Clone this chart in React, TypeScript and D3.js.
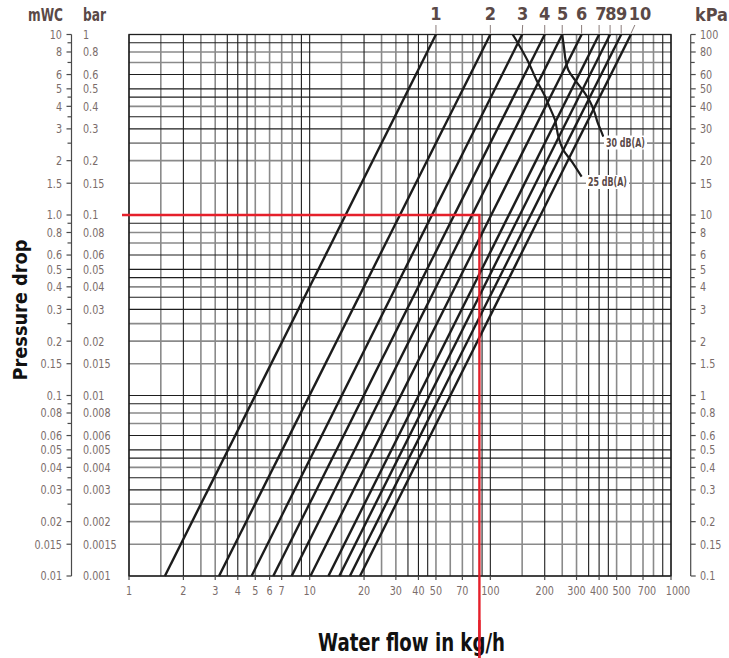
import React, { useRef, useEffect } from "react";
import * as d3 from "d3";

const W = 729;
const H = 658;

// grid multipliers per decade, and which of them are drawn dark (the rest grey)
const gridMults = [1, 1.5, 2, 2.5, 3, 3.5, 4, 4.5, 5, 6, 7, 8, 9];
const vGridDark = [true, false, true, false, false, true, true, true, false, false, false, false, true];
const hGridDark = [true, false, false, false, true, true, false, true, true, true, false, false, true];
const flowDecades = [1, 10, 100];
const pressDecades = [0.01, 0.1, 1];

// axis ticks (pressure in mWC)
const mwcTicks = [10, 8, 6, 5, 4, 3, 2, 1.5, 1, 0.8, 0.6, 0.5, 0.4, 0.3, 0.2, 0.15, 0.1, 0.08, 0.06, 0.05, 0.04, 0.03, 0.02, 0.015, 0.01];
const mwcLabels = ["10", "8", "6", "5", "4", "3", "2", "1.5", "1.0", "0.8", "0.6", "0.5", "0.4", "0.3", "0.2", "0.15", "0.1", "0.08", "0.06", "0.05", "0.04", "0.03", "0.02", "0.015", "0.01"];
const barLabels = ["1", "0.8", "0.6", "0.5", "0.4", "0.3", "0.2", "0.15", "0.1", "0.08", "0.06", "0.05", "0.04", "0.03", "0.02", "0.015", "0.01", "0.008", "0.006", "0.005", "0.004", "0.003", "0.002", "0.0015", "0.001"];
const kpaLabels = ["100", "80", "60", "50", "40", "30", "20", "15", "10", "8", "6", "5", "4", "3", "2", "1.5", "1", "0.8", "0.6", "0.5", "0.4", "0.3", "0.2", "0.15", "0.1"];
const minorTicks = [9, 7, 4.5, 3.5, 2.5, 0.9, 0.7, 0.45, 0.35, 0.25, 0.09, 0.07, 0.045, 0.035, 0.025];

const flowTicks = [1, 2, 3, 4, 5, 6, 7, 10, 20, 30, 40, 50, 70, 100, 200, 300, 400, 500, 700, 1000];

// valve settings 1..10: flow (kg/h) at 0.01 mWC and at 10 mWC
const settingLabels = ["1", "2", "3", "4", "5", "6", "7", "8", "9", "10"];
const flowAtLow = [1.58, 3.15, 4.77, 6.29, 7.95, 10.1, 12.7, 14.6, 16.7, 19.0];
const flowAtHigh = [50, 100, 150, 200, 250, 320, 400, 460, 530, 600];
const labelFlow = [50, 100, 151, 200, 251, 320, 409, 465, 533, 673];
const leaderFlow = [50, 100, 151, 200, 250, 320, 400, 460, 530, 631];

// sound level limit curves
const db30Flow = [250, 256, 261, 270, 294, 324, 356, 379, 391, 404, 422];
const db30Press = [10, 8.39, 7.22, 6.36, 5.6, 4.93, 4.25, 3.66, 3.29, 3.03, 2.72];
const db25Flow = [133, 146, 162, 180, 201, 214, 228, 238, 253, 282, 320];
const db25Press = [10, 8.56, 7.07, 5.6, 4.53, 3.91, 3.36, 2.72, 2.3, 1.98, 1.63];

// example reading
const exampleFlow = 87;
const examplePress = 1;

const font = "'DejaVu Sans', 'Noto Sans', sans-serif";
const tickColor = "#7a6c6a";
const titleColor = "#5a4947";
const squeeze = 0.77; // the original uses a condensed face

// the last few flow labels sit a little right of their tick in the original
const flowLabelNudge: Record<number, number> = { 500: 5, 700: 4, 1000: 7 };

export default function App() {
    const svgRef = useRef<SVGSVGElement>(null);

    useEffect(() => {
        const svg = d3.select(svgRef.current);
        svg.selectAll("*").remove();

        const x = d3.scaleLog().domain([1, 1000]).range([129, 671]);
        const y = d3.scaleLog().domain([0.01, 10]).range([576, 34.5]);
        const [x0, x1] = x.range();
        const [y0, y1] = y.range();

        // grid
        const grid = svg.append("g");
        const vLines: { v: number; dark: boolean }[] = [];
        const hLines: { v: number; dark: boolean }[] = [];
        flowDecades.forEach((d) => gridMults.forEach((m, i) => vLines.push({ v: d * m, dark: vGridDark[i] })));
        pressDecades.forEach((d) => gridMults.forEach((m, i) => hLines.push({ v: d * m, dark: hGridDark[i] })));
        vLines.push({ v: 1000, dark: true });
        hLines.push({ v: 10, dark: true });

        const drawGrid = (dark: boolean) => {
            grid.selectAll(null)
                .data(vLines.filter((l) => l.dark === dark))
                .enter().append("line")
                .attr("x1", (d) => x(d.v)).attr("x2", (d) => x(d.v))
                .attr("y1", y1).attr("y2", y0)
                .attr("stroke", dark ? "#1e1e1e" : "#8a8a8a")
                .attr("stroke-width", dark ? 1.1 : 1.6);
            grid.selectAll(null)
                .data(hLines.filter((l) => l.dark === dark))
                .enter().append("line")
                .attr("y1", (d) => y(d.v)).attr("y2", (d) => y(d.v))
                .attr("x1", x0).attr("x2", x1)
                .attr("stroke", dark ? "#1e1e1e" : "#8a8a8a")
                .attr("stroke-width", dark ? 1.1 : 1.6);
        };
        drawGrid(false);
        drawGrid(true);
        grid.append("rect")
            .attr("x", x0).attr("y", y1).attr("width", x1 - x0).attr("height", y0 - y1)
            .attr("fill", "none").attr("stroke", "#1e1e1e").attr("stroke-width", 1.3);

        // axes (mWC / bar on the left, kPa on the right)
        const axL = 71.5;
        const axR = 690.7;
        const axes = svg.append("g").attr("font-family", font).attr("font-size", 12.5).attr("fill", tickColor);
        const label = (tx: number, ty: number, s: string, anchor: string, dy = "0.35em") => {
            axes.append("text")
                .attr("transform", `translate(${tx},${ty}) scale(${squeeze},1)`)
                .attr("text-anchor", anchor).attr("dy", dy)
                .text(s);
        };
        [axL, axR].forEach((ax) => {
            axes.append("line").attr("x1", ax).attr("x2", ax).attr("y1", y1).attr("y2", y0)
                .attr("stroke", "#4a4a4a").attr("stroke-width", 1.2);
        });
        mwcTicks.forEach((t, i) => {
            const ty = y(t);
            axes.append("line").attr("x1", axL - 5).attr("x2", axL).attr("y1", ty).attr("y2", ty).attr("stroke", "#4a4a4a").attr("stroke-width", 1.2);
            axes.append("line").attr("x1", axR).attr("x2", axR + 5).attr("y1", ty).attr("y2", ty).attr("stroke", "#4a4a4a").attr("stroke-width", 1.2);
            label(62, ty, mwcLabels[i], "end");
            label(83, ty, barLabels[i], "start");
            label(700, ty, kpaLabels[i], "start");
        });
        minorTicks.forEach((t) => {
            const ty = y(t);
            axes.append("line").attr("x1", axL - 4).attr("x2", axL).attr("y1", ty).attr("y2", ty).attr("stroke", "#4a4a4a").attr("stroke-width", 1.2);
            axes.append("line").attr("x1", axR).attr("x2", axR + 4).attr("y1", ty).attr("y2", ty).attr("stroke", "#4a4a4a").attr("stroke-width", 1.2);
        });

        // bottom axis
        flowTicks.forEach((t) => {
            axes.append("line").attr("x1", x(t)).attr("x2", x(t)).attr("y1", y0).attr("y2", y0 + 4)
                .attr("stroke", "#4a4a4a").attr("stroke-width", 1.2);
            label(x(t) + (flowLabelNudge[t] || 0), 595, String(t), "middle", "0");
        });

        // unit titles
        const units = svg.append("g").attr("font-family", font).attr("font-weight", "bold").attr("font-size", 17).attr("fill", titleColor);
        units.append("text").attr("x", 28).attr("y", 21).attr("textLength", 35).attr("lengthAdjust", "spacingAndGlyphs").text("mWC");
        units.append("text").attr("x", 83).attr("y", 21).attr("textLength", 23).attr("lengthAdjust", "spacingAndGlyphs").text("bar");
        units.append("text").attr("x", 695).attr("y", 21).attr("textLength", 33).attr("lengthAdjust", "spacingAndGlyphs").text("kPa");

        // valve setting lines
        const line = d3.line<[number, number]>().x((d) => x(d[0])).y((d) => y(d[1]));
        const curves = svg.append("g").attr("fill", "none").attr("stroke", "#1c1c1c").attr("stroke-width", 2.4);
        settingLabels.forEach((_, i) => {
            curves.append("path").attr("d", line([[flowAtLow[i], 0.01], [flowAtHigh[i], 10]]));
        });

        // leaders + setting labels
        settingLabels.forEach((lab, i) => {
            svg.append("line")
                .attr("x1", x(leaderFlow[i])).attr("y1", 25)
                .attr("x2", x(flowAtHigh[i])).attr("y2", 33.5)
                .attr("stroke", "#8a7c7a").attr("stroke-width", 1);
            svg.append("text")
                .attr("transform", `translate(${x(labelFlow[i])},20) scale(0.9,1)`)
                .attr("text-anchor", "middle")
                .attr("font-family", font).attr("font-weight", "bold").attr("font-size", 18)
                .attr("fill", titleColor)
                .text(lab);
        });

        // dB(A) curves
        const dbLine = d3.line<[number, number]>().x((d) => x(d[0])).y((d) => y(d[1])).curve(d3.curveCatmullRom);
        const dbCurves = [
            { flows: db30Flow, press: db30Press, label: "30 dB(A)", lx: 606, ly: 142.5 },
            { flows: db25Flow, press: db25Press, label: "25 dB(A)", lx: 588, ly: 182 },
        ];
        dbCurves.forEach((c) => {
            const pts = c.flows.map((f, i) => [f, c.press[i]] as [number, number]);
            svg.append("path").attr("d", dbLine(pts))
                .attr("fill", "none").attr("stroke", "#1c1c1c").attr("stroke-width", 2.2);
            svg.append("rect").attr("x", c.lx - 2).attr("y", c.ly - 7).attr("width", 43).attr("height", 14).attr("fill", "#fff");
            svg.append("text").attr("x", c.lx).attr("y", c.ly).attr("dy", "0.35em")
                .attr("font-family", font).attr("font-weight", "bold").attr("font-size", 12)
                .attr("fill", titleColor)
                .attr("textLength", 39).attr("lengthAdjust", "spacingAndGlyphs")
                .text(c.label);
        });

        // example reading (red)
        const ex = x(exampleFlow);
        const ey = y(examplePress);
        svg.append("path")
            .attr("d", `M122,${ey}H${ex}V${H}`)
            .attr("fill", "none").attr("stroke", "#e5202b").attr("stroke-width", 2.4);

        // axis titles
        svg.append("text")
            .attr("transform", `translate(20,310) rotate(-90)`)
            .attr("text-anchor", "middle").attr("dy", "0.35em")
            .attr("font-family", font).attr("font-weight", "bold").attr("font-size", 20)
            .attr("fill", "#111")
            .attr("textLength", 141).attr("lengthAdjust", "spacingAndGlyphs")
            .text("Pressure drop");
        svg.append("text")
            .attr("x", 318).attr("y", 651)
            .attr("font-family", font).attr("font-weight", "bold").attr("font-size", 25)
            .attr("fill", "#111")
            .attr("textLength", 187).attr("lengthAdjust", "spacingAndGlyphs")
            .text("Water flow in kg/h");

        // keep the red line above the title, as in the original
        svg.append("line").attr("x1", ex).attr("x2", ex).attr("y1", 620).attr("y2", H)
            .attr("stroke", "#e5202b").attr("stroke-width", 2.4);
    }, []);

    return (
        <svg
            ref={svgRef}
            width={W}
            height={H}
            style={{ position: "absolute", left: 0, top: 0, background: "#fff", display: "block" }}
        />
    );
}
